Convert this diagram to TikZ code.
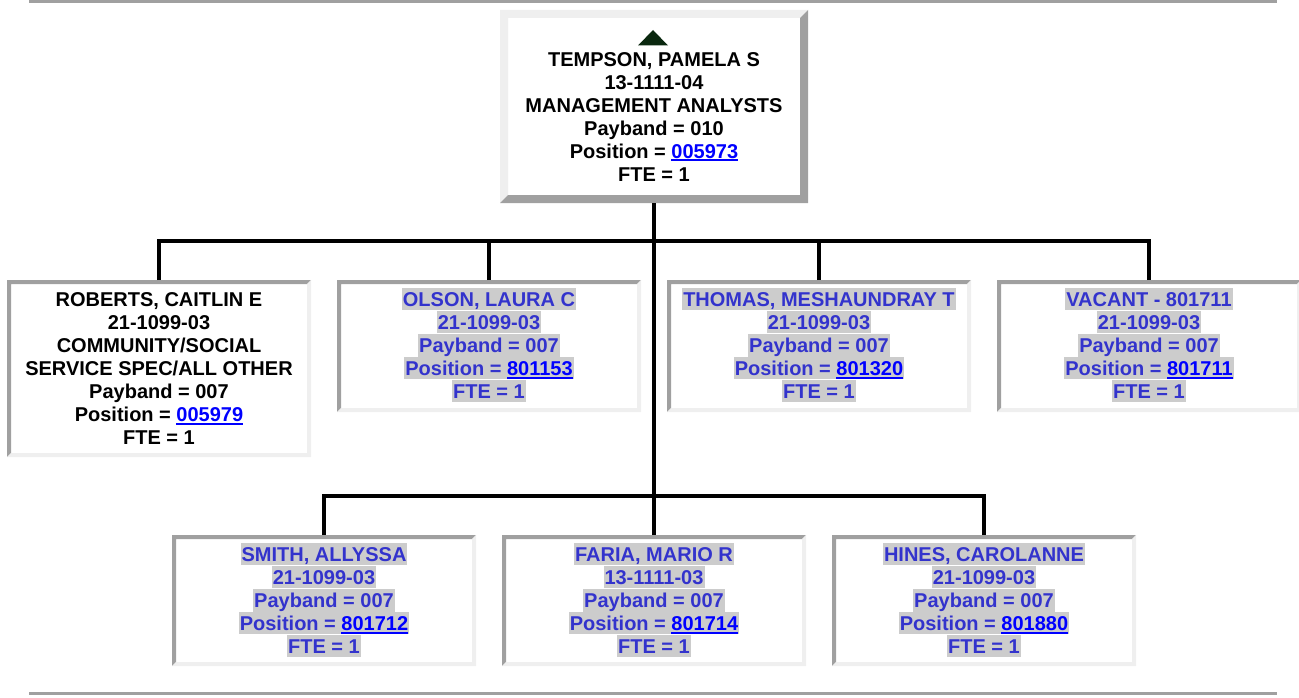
\documentclass[tikz,border=0pt]{standalone}
\usepackage{fontspec}
\setmainfont{Liberation Sans}
\definecolor{txtblue}{RGB}{51,51,204}
\definecolor{linkblue}{RGB}{0,0,255}
\definecolor{hlgray}{RGB}{204,204,204}
\definecolor{bdark}{RGB}{160,160,160}
\definecolor{blight}{RGB}{239,239,239}
\definecolor{trigreen}{RGB}{10,40,15}
\newcommand{\hlline}[1]{{\fboxsep=0pt\colorbox{hlgray}{\kern1pt\rule[-3.5pt]{0pt}{22pt}#1\kern1pt}}}
\newcommand{\plainline}[1]{\rule[-3.5pt]{0pt}{22pt}#1}
\newcommand{\poslink}[1]{{\color{linkblue}\setbox0=\hbox{#1}\rlap{\rule[-3pt]{\wd0}{2pt}}\box0}}
\tikzset{
  orgtext/.style={anchor=north, inner sep=0pt, outer sep=0pt, align=center, font=\fontsize{20}{23}\selectfont\bfseries},
  bluetext/.style={orgtext, text=txtblue},
  conn/.style={line width=4.3pt, black},
  sepline/.style={bdark, line width=3pt},
  inset/.style={rectangle, inner sep=0pt, outer sep=0pt, minimum width=304pt, fill=white,
    path picture={
      \fill[bdark] (path picture bounding box.south west) |- (path picture bounding box.north east) -- ++(-4pt,-4pt) -| ([shift={(4pt,4pt)}]path picture bounding box.south west) -- cycle;
      \fill[blight] (path picture bounding box.south west) -| (path picture bounding box.north east) -- ++(-4pt,-4pt) |- ([shift={(4pt,4pt)}]path picture bounding box.south west) -- cycle;
    }},
  outset/.style={rectangle, inner sep=0pt, outer sep=0pt, fill=white,
    path picture={
      \fill[blight] (path picture bounding box.south west) |- (path picture bounding box.north east) -- ++(-8pt,-8pt) -| ([shift={(8pt,8pt)}]path picture bounding box.south west) -- cycle;
      \fill[bdark] (path picture bounding box.south west) -| (path picture bounding box.north east) -- ++(-8pt,-8pt) |- ([shift={(8pt,8pt)}]path picture bounding box.south west) -- cycle;
    }},
}
\begin{document}
\begin{tikzpicture}[x=1pt,y=1pt]
\useasboundingbox (0,0) rectangle (1299,-698);
% separator lines
\coordinate (tl) at (29,-1.3);
\coordinate (tr) at (1277,-1.3);
\coordinate (bl) at (29,-693.7);
\coordinate (br) at (1277,-693.7);
\draw[sepline] (tl) -- (tr);
\draw[sepline] (bl) -- (br);

% boxes
\node[outset, minimum width=308pt, minimum height=193pt] (top) at (654,-106.5) {};
\node[inset, minimum height=177pt] (roberts) at (159,-368.5) {};
\node[inset, minimum height=132pt] (olson) at (489,-346) {};
\node[inset, minimum height=132pt] (thomas) at (819,-346) {};
\node[inset, minimum height=132pt] (vacant) at (1149,-346) {};
\node[inset, minimum height=131pt] (smith) at (324,-600.5) {};
\node[inset, minimum height=131pt] (faria) at (654,-600.5) {};
\node[inset, minimum height=131pt] (hines) at (984,-600.5) {};

% triangle
\fill[trigreen] (638,-45.5) -- (653,-30) -- (668,-45.5) -- cycle;

% connectors
\coordinate (j1) at (654,-241);
\coordinate (j2) at (654,-496);
\draw[conn] (top.south) -- (j1) -- (j2);
\draw[conn] (roberts.north) |- (j1);
\draw[conn] (olson.north) |- (j1);
\draw[conn] (thomas.north) |- (j1);
\draw[conn] (vacant.north) |- (j1);
\draw[conn] (smith.north) |- (j2);
\draw[conn] (faria.north) -- (j2);
\draw[conn] (hines.north) |- (j2);

% texts
\node[orgtext] (top-t) at ([yshift=-38pt]top.north) {\plainline{TEMPSON, PAMELA S}\\\plainline{13-1111-04}\\\plainline{MANAGEMENT ANALYSTS}\\\plainline{Payband = 010}\\\plainline{Position = \poslink{005973}}\\\plainline{FTE = 1}};
\node[orgtext] (roberts-t) at ([yshift=-8pt]roberts.north) {\plainline{ROBERTS, CAITLIN E}\\\plainline{21-1099-03}\\\plainline{COMMUNITY/SOCIAL}\\\plainline{SERVICE SPEC/ALL OTHER}\\\plainline{Payband = 007}\\\plainline{Position = \poslink{005979}}\\\plainline{FTE = 1}};
\node[bluetext] (olson-t) at ([yshift=-8pt]olson.north) {\hlline{OLSON, LAURA C}\\\hlline{21-1099-03}\\\hlline{Payband = 007}\\\hlline{Position = \poslink{801153}}\\\hlline{FTE = 1}};
\node[bluetext] (thomas-t) at ([yshift=-8pt]thomas.north) {\hlline{THOMAS, MESHAUNDRAY T}\\\hlline{21-1099-03}\\\hlline{Payband = 007}\\\hlline{Position = \poslink{801320}}\\\hlline{FTE = 1}};
\node[bluetext] (vacant-t) at ([yshift=-8pt]vacant.north) {\hlline{VACANT - 801711}\\\hlline{21-1099-03}\\\hlline{Payband = 007}\\\hlline{Position = \poslink{801711}}\\\hlline{FTE = 1}};
\node[bluetext] (smith-t) at ([yshift=-8pt]smith.north) {\hlline{SMITH, ALLYSSA}\\\hlline{21-1099-03}\\\hlline{Payband = 007}\\\hlline{Position = \poslink{801712}}\\\hlline{FTE = 1}};
\node[bluetext] (faria-t) at ([yshift=-8pt]faria.north) {\hlline{FARIA, MARIO R}\\\hlline{13-1111-03}\\\hlline{Payband = 007}\\\hlline{Position = \poslink{801714}}\\\hlline{FTE = 1}};
\node[bluetext] (hines-t) at ([yshift=-8pt]hines.north) {\hlline{HINES, CAROLANNE}\\\hlline{21-1099-03}\\\hlline{Payband = 007}\\\hlline{Position = \poslink{801880}}\\\hlline{FTE = 1}};
\end{tikzpicture}
\end{document}
